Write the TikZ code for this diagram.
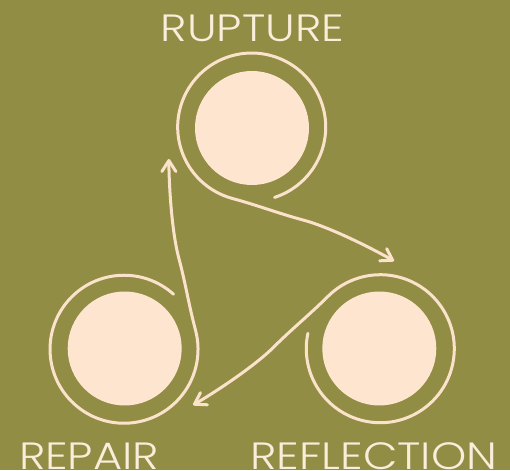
\documentclass[tikz,border=0pt]{standalone}
\usepackage{fontspec}
\setmainfont{Poppins}[UprightFont=* Light,FakeStretch=1.18]
\usetikzlibrary{arrows.meta}
\definecolor{olivebg}{HTML}{918D45}
\definecolor{peach}{HTML}{FEE5D0}
\definecolor{cream}{HTML}{FBE3CB}
\definecolor{labelc}{HTML}{F8EEDA}
\begin{document}
\begin{tikzpicture}[x=1pt,y=1pt,
  disk/.style={circle,fill=peach,minimum size=114pt,inner sep=0},
  ring/.style={draw=cream,line width=3pt,line cap=round},
  tip/.style={-{Straight Barb[length=11pt,width=14pt,round]}},
  lbl/.style={text=labelc,font=\fontsize{38}{38}\selectfont,inner sep=0,anchor=base}]
\fill[olivebg] (-252,-195) rectangle (258,275);
\useasboundingbox (-252,-195) rectangle (258,275);
\foreach \r/\n in {0/rupture,-120/reflection,120/repair}{
  \begin{scope}[rotate=\r]
    \node[disk] (\n) at (0,147) {};
    \begin{scope}[shift={(0,147)}]
      \draw[ring,tip] (-72:73) arc[start angle=-72,end angle=255,radius=74]
        .. controls +(345:25) and +(165:25) .. (51,-92)
        .. controls +(-15:30) and +(150:20) .. (142,-133);
    \end{scope}
  \end{scope}
}
\node[lbl] (lrupture) at (0.5,233) {RUPTURE};
\node[lbl] (lrepair) at (-163,-194) {REPAIR};
\node[lbl] (lreflection) at (122,-194) {REFLECTION};
\end{tikzpicture}
\end{document}
